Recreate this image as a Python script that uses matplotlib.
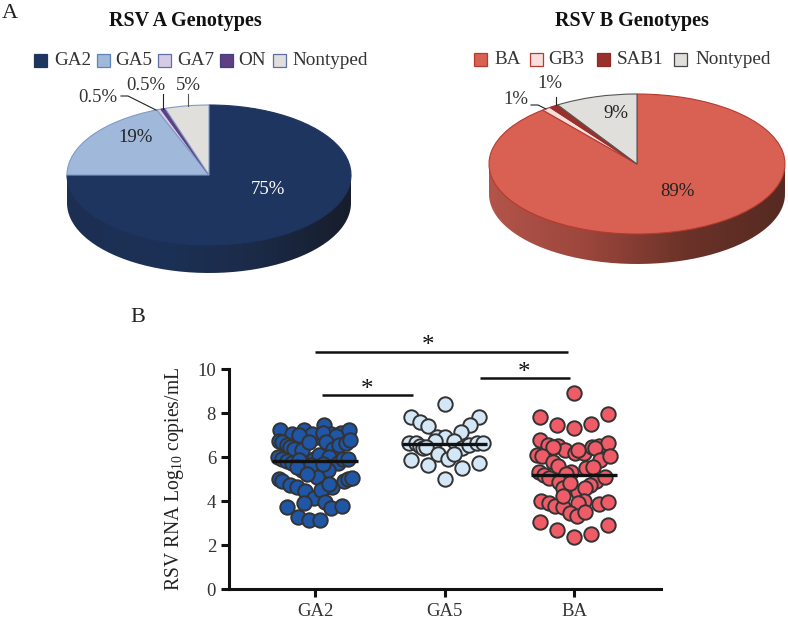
import numpy as np
import matplotlib
matplotlib.use("Agg")
import matplotlib.pyplot as plt
from matplotlib.patches import Rectangle, PathPatch
from matplotlib.path import Path
from matplotlib.colors import LinearSegmentedColormap

plt.rcParams['font.family'] = ['Liberation Serif', 'DejaVu Serif']
plt.rcParams['mathtext.fontset'] = 'custom'
plt.rcParams['mathtext.rm'] = 'Liberation Serif'

W, H = 788, 622

# pie data
a_labels = ['GA2', 'GA5', 'GA7', 'ON', 'Nontyped']
a_values = [75, 19, 0.5, 0.5, 5]
a_colors = ['#1d355f', '#a0b8d9', '#d6cbe3', '#5f3f82', '#e0dfdc']
a_edges = ['#1d355f', '#7f9cc6', '#7f9cc6', '#5f3f82', '#7f9cc6']
b_labels = ['BA', 'GB3', 'SAB1', 'Nontyped']
b_values = [89, 1, 1, 9]
b_colors = ['#d86153', '#f6dfdc', '#99302c', '#e0dfdc']
b_edges = ['#b8392e', '#b8392e', '#99302c', '#555555']

# swarm data, x is the offset from the category centre
ga2_x = [-.274, -.179, -.082, .018, .071, .124, .203, .263, -.02, .06, -.12, .16,
         -.276, -.258, -.218, -.192, -.166, -.100, -.047, .084, .137, .189, .237, .274,
         -.284, -.258, -.218, -.179, -.126, -.008, .032, .111, .176, .216, .255, -.100, .097, .018, -.03, -.139, .06, -.06,
         -.279, -.253, -.192, -.139, -.074, -.008, .071, .132, .221, .255, .282, .05, .11,
         -.218, -.084, .074, .124, .211, -.134, -.050, .039]
ga2_y = [7.22, 7.04, 7.25, 6.89, 7.45, 7.04, 7.10, 7.22, 7.05, 7.08, 6.98, 6.95,
         6.74, 6.69, 6.54, 6.47, 6.36, 6.31, 6.69, 6.69, 6.36, 6.54, 6.65, 6.77,
         5.98, 5.89, 5.83, 5.71, 5.86, 5.93, 6.09, 5.98, 5.71, 5.89, 5.93, 5.40, 5.43, 5.10, 5.62, 5.56, 5.7, 5.25,
         4.98, 4.90, 4.72, 4.65, 4.47, 4.12, 4.57, 4.65, 4.90, 4.98, 5.03, 4.52, 4.78,
         3.74, 3.89, 3.97, 3.66, 3.77, 3.28, 3.13, 3.13]
ga5_x = [.005, -.258, -.192, -.126, .268, .197, .129, -.060, .005, -.074, .071,
         -.271, -.218, -.192, -.166, -.139, .137, .189, .25, .295,
         -.047, .024, .071, -.258, -.126, .137, .263, .005]
ga5_y = [8.41, 7.80, 7.61, 7.42, 7.80, 7.45, 7.15, 6.92, 6.92, 6.74, 6.74,
         6.62, 6.62, 6.52, 6.39, 6.47, 6.39, 6.55, 6.62, 6.62,
         6.14, 5.91, 6.14, 5.86, 5.64, 5.48, 5.71, 4.98]
ba_x = [0, -.263, -.132, 0, .132, .261,
        -.266, -.197, -.126, -.066, .005, .079, .137, .195, .261, -.16, .03, .16,
        -.284, -.245, -.166, -.126, -.021, .092, .203, .276, -.06, .15,
        -.271, -.232, -.192, -.113, -.082, .032, .171, .242, .124, .084, -.03,
        -.258, -.192, -.145, -.087, -.082, .076, .195, .261, .03,
        -.034, .024, .084,
        -.263, -.132, 0, .132, .261]
ba_y = [8.90, 7.84, 7.46, 7.31, 7.49, 7.94,
        6.77, 6.55, 6.52, 6.32, 6.2, 6.17, 6.47, 6.52, 6.62, 6.45, 6.3, 6.4,
        6.09, 6.05, 5.76, 5.61, 5.34, 5.52, 5.87, 6.05, 5.25, 5.55,
        5.31, 5.18, 5.03, 4.88, 4.61, 4.43, 4.91, 5.11, 4.73, 4.58, 4.8,
        4.0, 3.9, 3.78, 3.75, 4.25, 4.0, 3.85, 3.97, 3.9,
        3.44, 3.34, 3.52,
        3.03, 2.68, 2.38, 2.49, 2.91]
groups = ['GA2', 'GA5', 'BA']
medians = [5.83, 6.58, 5.2]
swarm_colors = ['#1f56a5', '#d3e7f7', '#ef5b67']

# significance bars: from, to, height
sig_from = [0, 0.054, 1.274]
sig_to = [1.954, 0.757, 1.969]
sig_y = [10.77, 8.82, 9.59]
star_x = [0.873, 0.402, 1.614]
star_y = [11.03, 9.05, 9.82]


def px_axes(x0, y0, x1, y1):
    # y is counted from the top, like in the picture
    return fig.add_axes([x0 / W, 1 - y1 / H, (x1 - x0) / W, (y1 - y0) / H])


def pie3d(cx, cy, rx, ry, depth, values, colors, edges, side_cols):
    ax = px_axes(cx - rx - 2, cy - ry - 2, cx + rx + 2, cy + ry + depth + 2)
    ax.set_xlim(-rx - 2, rx + 2)
    ax.set_ylim(-ry - depth - 2, ry + 2)
    ax.set_aspect('auto')
    ax.axis('off')
    # side wall with shading, clipped to the lower half of the ring
    t = np.linspace(np.pi, 2 * np.pi, 100)
    xs = rx * np.cos(t)
    ys = ry * np.sin(t)
    verts = list(zip(xs, ys - depth)) + list(zip(xs[::-1], ys[::-1] + 1))
    clip = PathPatch(Path(verts + [verts[0]]), fc='none', ec='none', transform=ax.transData)
    ax.add_patch(clip)
    cmap = LinearSegmentedColormap.from_list('side', side_cols)
    im = ax.imshow(np.linspace(0, 1, 256).reshape(1, -1), cmap=cmap, aspect='auto',
                   extent=(-rx, rx, -ry - depth, 2), zorder=1)
    im.set_clip_path(clip)
    # top of the pie, stretched into an ellipse by the axes
    ax2 = px_axes(cx - rx, cy - ry, cx + rx, cy + ry)
    ax2.patch.set_alpha(0)
    ax2.pie(values, colors=colors, startangle=90, counterclock=False, radius=1,
            wedgeprops={'linewidth': 0.8})
    for w, e in zip(ax2.patches, edges):
        w.set_edgecolor(e)
    ax2.set_aspect('auto')
    ax2.set_xlim(-1, 1)
    ax2.set_ylim(-1, 1)
    ax2.axis('off')
    ax2.patch.set_visible(False)


fig = plt.figure(figsize=(W / 100, H / 100), dpi=100)

pie3d(209, 175, 142, 70, 28, a_values, a_colors, a_edges,
      ['#1d2f52', '#1c3157', '#1b2a47', '#171d2b'])
pie3d(637, 164, 148, 70, 30, b_values, b_colors, b_edges,
      ['#b3544a', '#9b463c', '#6b3228', '#552a22'])

# overlay in picture pixels for the texts
ov = fig.add_axes([0, 0, 1, 1], zorder=5)
ov.set_xlim(0, W)
ov.set_ylim(H, 0)
ov.axis('off')

ov.text(2, 14, 'A', fontsize=16, ha='left', va='center', color='#222222')
ov.text(130, 318, 'B', fontsize=16, ha='left', va='center', color='#222222')
ov.text(185, 21, 'RSV A Genotypes', fontsize=14.5, fontweight='bold', ha='center', va='center', color='#111111')
ov.text(632, 21, 'RSV B Genotypes', fontsize=14.5, fontweight='bold', ha='center', va='center', color='#111111')

a_box_x = [34, 97, 158, 220, 273]
a_text_x = [54, 115, 177, 238, 292]
for x, tx, lab, c, e in zip(a_box_x, a_text_x, a_labels, a_colors, ['#1d355f', '#5f82b8', '#5f6fa8', '#3f3f82', '#5f6f9f']):
    ov.add_patch(Rectangle((x, 53.5), 13.5, 13.5, fc=c, ec=e, lw=0.9))
    ov.text(tx, 60.5, lab, fontsize=13.8, ha='left', va='center', color='#333333')
b_box_x = [474, 530, 597, 674]
b_text_x = [494, 548, 617, 695]
for x, tx, lab, c, e in zip(b_box_x, b_text_x, b_labels, b_colors, ['#b8392e', '#b8392e', '#8c2a26', '#444444']):
    ov.add_patch(Rectangle((x, 52.5), 13.5, 13.5, fc=c, ec=e, lw=0.9))
    ov.text(tx, 60, lab, fontsize=13.8, ha='left', va='center', color='#333333')

# pie percentages
pct = [(268, 189, '75%', 'white'), (136, 137, '19%', '#222222'), (98, 97, '0.5%', '#333333'),
       (146, 85, '0.5%', '#333333'), (188, 85, '5%', '#333333'),
       (677, 192, '89%', '#222222'), (616, 114, '9%', '#222222'),
       (516, 99, '1%', '#333333'), (550, 83, '1%', '#333333')]
for x, y, s, c in pct:
    ov.text(x, y, s, fontsize=13.5, ha='center', va='center', color=c)
# leader lines
ov.plot([121, 128, 156], [96, 96, 110], color='#222222', lw=0.8)
ov.plot([163, 163], [94, 109], color='#222222', lw=0.8)
ov.plot([188, 188], [94, 106], color='#555555', lw=0.8)
ov.plot([531, 538, 546], [105, 105, 109], color='#222222', lw=0.8)
ov.plot([556, 556], [97, 105], color='#222222', lw=0.8)

# swarm plot, axes box taken from the tick positions
ax = px_axes(229, 369, 661, 589)
ax.patch.set_alpha(0)
ax.set_zorder(6)
ax.set_xlim((229 - 315) / 129.5, (661 - 315) / 129.5)
ax.set_ylim(0, 10)
for i, (xs, ys) in enumerate(zip([ga2_x, ga5_x, ba_x], [ga2_y, ga5_y, ba_y])):
    ax.scatter(i + np.array(xs), ys, s=108, facecolor=swarm_colors[i], edgecolor='#333333',
               linewidth=1.4, zorder=3, clip_on=False)
    ax.plot([i - .33, i + .33], [medians[i], medians[i]], color='#111111', lw=2.4, zorder=4,
            solid_capstyle='butt')
for x0, x1, y in zip(sig_from, sig_to, sig_y):
    ax.plot([x0, x1], [y, y], color='#111111', lw=1.8, solid_capstyle='butt', clip_on=False)
for x, y in zip(star_x, star_y):
    ax.text(x, y, '*', fontsize=18, ha='center', va='center', color='#111111', clip_on=False)
ax.set_xticks(range(3))
ax.set_xticklabels(groups)
ax.set_yticks(range(0, 11, 2))
ax.tick_params(axis='both', width=2.2, length=5.8, labelsize=13.5, labelcolor='#333333', color='#111111')
ax.tick_params(axis='x', pad=4.5)
for s in ['top', 'right']:
    ax.spines[s].set_visible(False)
for s in ['left', 'bottom']:
    ax.spines[s].set_linewidth(2.2)
    ax.spines[s].set_color('#111111')
ax.set_ylabel('RSV RNA Log$_{10}$ copies/mL', fontsize=14.1, color='#222222', labelpad=8)

fig.savefig('out.png', dpi=100)
